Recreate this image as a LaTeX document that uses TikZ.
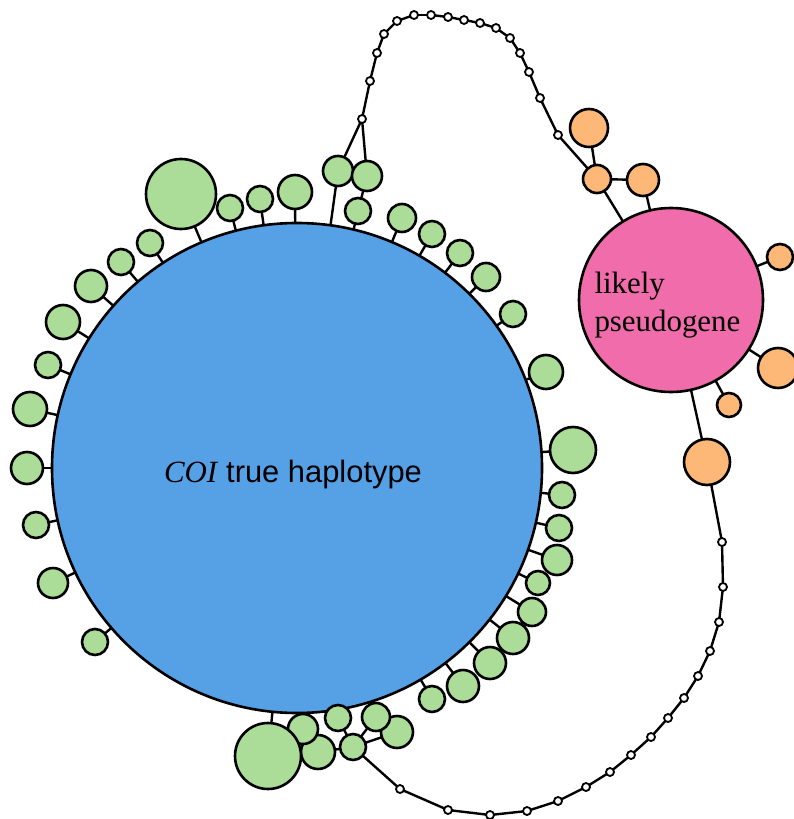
\documentclass[tikz,border=0pt]{standalone}
\usepackage{fontspec}
\setmainfont{Liberation Serif}
\newfontfamily\arialfont{Liberation Sans}
\usepackage{tikz}
\usetikzlibrary{backgrounds}

\definecolor{hapblue}{RGB}{86,160,230}
\definecolor{pseudopink}{RGB}{240,108,170}
\definecolor{varorange}{RGB}{253,184,120}
\definecolor{vargreen}{RGB}{172,221,152}

\tikzset{
  hapnode/.style={circle, draw, line width=2.6bp, inner sep=0pt, outer sep=0pt, fill=#1},
  mutdot/.style={circle, draw, line width=1.8bp, inner sep=0pt, outer sep=0pt, fill=white, minimum size=8bp},
  edge/.style={draw, line width=2.4bp},
}

\begin{document}
\begin{tikzpicture}[x=1bp, y=-1bp]
      \useasboundingbox (0,0) rectangle (794,819);

      % Main haplotypes: true COI and the pseudogene
      \node[hapnode=hapblue, minimum size=490bp] (coi) at (297,468) {};
      \node[hapnode=pseudopink, minimum size=184bp] (pseudo) at (671,300) {};
      \node[anchor=base, font=\fontsize{31}{37}\selectfont] (coilabel) at (293,482)
        {\textit{COI} {\arialfont true haplotype}};
      \node[anchor=west, align=left, font=\fontsize{31}{38}\selectfont] (pseudolabel) at (591,305)
        {likely\\pseudogene};

      % Green variants round the true haplotype (name/x/y/size)
      \foreach \n/\x/\y/\sz in {1/181/194/70, 2/230/208/26, 3/260/199/26, 4/295/192/34,
          5/338/171/30, 6/367/176/30, 7/358/211/26, 8/402/218/28, 9/432/234/26,
          10/460/253/26, 11/486/277/28, 12/513/314/26, 13/546/372/34, 14/573/450/46,
          15/562/495/26, 16/559/528/26, 17/557/560/30, 18/538/583/24, 19/532/612/28,
          20/513/638/32, 21/490/663/32, 22/463/686/32, 23/432/699/26, 24/397/732/32,
          25/376/717/28, 26/353/747/26, 27/338/718/26, 28/318/752/34, 29/303/729/30,
          30/268/756/66, 31/95/642/26, 32/53/583/30, 33/36/525/26, 34/27/468/32,
          35/30/409/34, 36/48/365/26, 37/63/322/34, 38/91/286/32, 39/121/262/26,
          40/150/243/26}{
        \node[hapnode=vargreen, minimum size=\sz bp] (g\n) at (\x,\y) {};
      }

      % Orange variants round the pseudogene
      \foreach \n/\x/\y/\sz in {1/589/128/38, 2/597/179/28, 3/643/180/32, 4/780/257/26,
          5/778/368/40, 6/729/405/24, 7/707/462/46}{
        \node[hapnode=varorange, minimum size=\sz bp] (o\n) at (\x,\y) {};
      }

      % Missing haplotypes: top chain (t) and bottom chain (b)
      \node[mutdot] (h0) at (362,119) {};
      \foreach \x/\y [count=\i] in {370/81, 377/53, 384/34, 397/21, 414/15, 431/15,
          448/17, 464/20, 480/23, 496/28, 510/38, 520/53, 529/72, 540/98, 558/135}{
        \node[mutdot] (t\i) at (\x,\y) {};
      }
      \foreach \x/\y [count=\i] in {400/789, 448/810, 490/815, 527/811, 558/801,
          586/787, 610/772, 631/755, 651/737, 668/718, 684/698, 698/676, 710/651,
          719/622, 723/587, 722/542}{
        \node[mutdot] (b\i) at (\x,\y) {};
      }

      % Connectors behind the circles
      \begin{scope}[on background layer]
        \foreach \n in {1,2,3,4,5,7,8,9,10,11,12,13,14,15,16,17,18,19,20,21,22,23,
            25,27,29,30,31,32,33,34,35,36,37,38,39,40}{
          \draw[edge] (g\n) -- (coi);
        }
        \draw[edge] (g6) -- (g7);
        \draw[edge] (g5) -- (h0) -- (g6);
        \foreach \n in {24,25,27,28}{
          \draw[edge] (g26) -- (g\n);
        }
        \foreach \n in {2,3,4,5,6,7}{
          \draw[edge] (o\n) -- (pseudo);
        }
        \draw[edge] (o1) -- (o2) -- (o3);

        % chains of unsampled steps
        \draw[edge] (h0) -- (t1);
        \foreach \i [evaluate=\i as \j using int(\i+1)] in {1,...,14}{
          \draw[edge] (t\i) -- (t\j);
        }
        \draw[edge] (t15) -- (o2);
        \draw[edge] (g26) -- (b1);
        \foreach \i [evaluate=\i as \j using int(\i+1)] in {1,...,15}{
          \draw[edge] (b\i) -- (b\j);
        }
        \draw[edge] (b16) -- (o7);
      \end{scope}
    \end{tikzpicture}
\end{document}
